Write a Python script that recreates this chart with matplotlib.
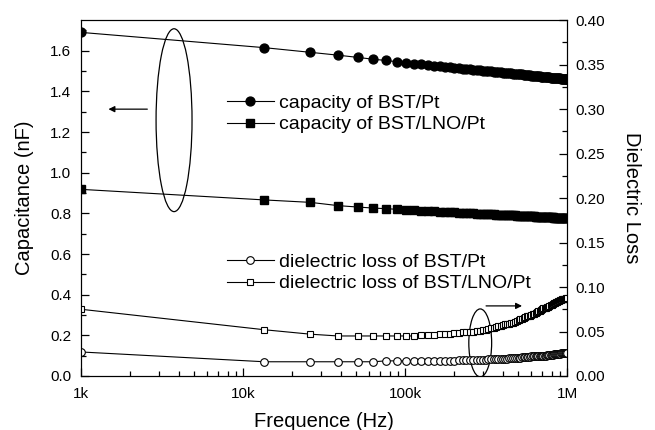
import matplotlib
matplotlib.use('Agg')
import numpy as np
import matplotlib.pyplot as plt
from matplotlib.patches import Ellipse
from matplotlib.ticker import FixedLocator, FixedFormatter, MultipleLocator, FormatStrFormatter

plt.rcParams['font.family'] = ['Liberation Sans', 'DejaVu Sans']

#%% data
# frequency sweep (kHz)
freq_khz = [1, 13.5, 26, 38.5, 51, 63.5, 76, 88.5,
            101, 113.5, 126, 138.5, 151, 163.5, 176, 188.5, 201, 213.5,
            226, 238.5, 251, 263.5, 276, 288.5, 301, 313.5, 326, 338.5,
            351, 363.5, 376, 388.5, 401, 413.5, 426, 438.5, 451, 463.5,
            476, 488.5, 501, 513.5, 526, 538.5, 551, 563.5, 576, 588.5,
            601, 613.5, 626, 638.5, 651, 663.5, 676, 688.5, 701, 713.5,
            726, 738.5, 751, 763.5, 776, 788.5, 801, 813.5, 826, 838.5,
            851, 863.5, 876, 888.5, 901, 913.5, 926, 938.5, 951, 963.5,
            976, 988.5, 1000]

# capacitance (nF)
cap_pt = [1.690, 1.615, 1.592, 1.578, 1.567, 1.558, 1.552, 1.546,
          1.541, 1.537, 1.533, 1.530, 1.527, 1.524, 1.521, 1.519, 1.516, 1.514,
          1.512, 1.510, 1.509, 1.507, 1.505, 1.504, 1.502, 1.501, 1.499, 1.498,
          1.497, 1.496, 1.494, 1.493, 1.492, 1.491, 1.490, 1.489, 1.488, 1.487,
          1.486, 1.485, 1.484, 1.483, 1.483, 1.482, 1.481, 1.480, 1.479, 1.479,
          1.478, 1.477, 1.476, 1.476, 1.475, 1.474, 1.474, 1.473, 1.472, 1.472,
          1.471, 1.471, 1.470, 1.469, 1.469, 1.468, 1.468, 1.467, 1.467, 1.466,
          1.466, 1.465, 1.465, 1.464, 1.464, 1.463, 1.463, 1.462, 1.462, 1.461,
          1.461, 1.461, 1.460]
cap_lno = [0.918, 0.866, 0.854, 0.838, 0.831, 0.826, 0.823, 0.820,
           0.818, 0.816, 0.814, 0.812, 0.810, 0.809, 0.808, 0.806, 0.805, 0.804,
           0.803, 0.802, 0.801, 0.800, 0.799, 0.799, 0.798, 0.797, 0.796, 0.796,
           0.795, 0.794, 0.794, 0.793, 0.793, 0.792, 0.792, 0.791, 0.791, 0.790,
           0.790, 0.789, 0.789, 0.788, 0.788, 0.787, 0.787, 0.786, 0.786, 0.786,
           0.785, 0.785, 0.785, 0.784, 0.784, 0.783, 0.783, 0.783, 0.782, 0.782,
           0.782, 0.782, 0.781, 0.781, 0.781, 0.780, 0.780, 0.780, 0.779, 0.779,
           0.779, 0.778, 0.778, 0.778, 0.778, 0.777, 0.777, 0.777, 0.777, 0.776,
           0.776, 0.776, 0.776]

# dielectric loss
loss_pt = [0.027, 0.016, 0.016, 0.016, 0.016, 0.016, 0.017, 0.017,
           0.017, 0.017, 0.017, 0.017, 0.017, 0.017, 0.017, 0.017, 0.017, 0.018,
           0.018, 0.018, 0.018, 0.018, 0.018, 0.018, 0.018, 0.018, 0.019, 0.019,
           0.019, 0.019, 0.019, 0.019, 0.019, 0.019, 0.019, 0.020, 0.020, 0.020,
           0.020, 0.020, 0.020, 0.020, 0.021, 0.021, 0.021, 0.021, 0.021, 0.021,
           0.022, 0.022, 0.022, 0.022, 0.022, 0.022, 0.023, 0.023, 0.023, 0.023,
           0.023, 0.023, 0.024, 0.024, 0.024, 0.024, 0.024, 0.024, 0.025, 0.025,
           0.025, 0.025, 0.025, 0.025, 0.025, 0.026, 0.026, 0.026, 0.026, 0.026,
           0.026, 0.026, 0.026]
loss_lno = [0.075, 0.052, 0.047, 0.045, 0.045, 0.045, 0.045, 0.045,
            0.045, 0.045, 0.046, 0.046, 0.046, 0.047, 0.047, 0.047, 0.048, 0.048,
            0.049, 0.049, 0.050, 0.050, 0.051, 0.051, 0.052, 0.052, 0.053, 0.054,
            0.054, 0.055, 0.056, 0.056, 0.057, 0.058, 0.058, 0.059, 0.060, 0.060,
            0.061, 0.062, 0.063, 0.064, 0.064, 0.065, 0.066, 0.067, 0.067, 0.068,
            0.069, 0.070, 0.070, 0.071, 0.072, 0.073, 0.073, 0.074, 0.075, 0.076,
            0.076, 0.077, 0.078, 0.078, 0.079, 0.080, 0.080, 0.081, 0.082, 0.082,
            0.083, 0.083, 0.084, 0.084, 0.085, 0.085, 0.086, 0.086, 0.086, 0.087,
            0.087, 0.088, 0.088]

xtick_vals = [1e3, 1e4, 1e5, 1e6]
xtick_labels = ['1k', '10k', '100k', '1M']

freq = np.array(freq_khz) * 1000.0

#%% figure
fig = plt.figure(figsize=(6.55, 4.30), dpi=100)
ax = fig.add_axes([0.124, 0.1256, 0.742, 0.8274])
ax2 = ax.twinx()

lw = 0.8
ax.plot(freq, cap_pt, '-o', color='black', lw=lw, ms=6.4, mfc='black', mec='black',
        label='capacity of BST/Pt')
ax.plot(freq, cap_lno, '-s', color='black', lw=lw, ms=5.8, mfc='black', mec='black',
        label='capacity of BST/LNO/Pt')
ax2.plot(freq, loss_pt, '-o', color='black', lw=lw, ms=5.5, mfc='white', mec='black',
         mew=0.8, label='dielectric loss of BST/Pt')
ax2.plot(freq, loss_lno, '-s', color='black', lw=lw, ms=5.0, mfc='white', mec='black',
         mew=0.8, label='dielectric loss of BST/LNO/Pt')

ax.set_xscale('log')
ax.set_xlim(1e3, 1e6)
ax.set_ylim(0, 1.75)
ax2.set_ylim(0, 0.40)

ax.xaxis.set_major_locator(FixedLocator(xtick_vals))
ax.xaxis.set_major_formatter(FixedFormatter(xtick_labels))
ax.yaxis.set_major_locator(MultipleLocator(0.2))
ax.yaxis.set_minor_locator(MultipleLocator(0.1))
ax.yaxis.set_major_formatter(FormatStrFormatter('%.1f'))
ax2.yaxis.set_major_locator(MultipleLocator(0.05))
ax2.yaxis.set_minor_locator(MultipleLocator(0.025))
ax2.yaxis.set_major_formatter(FormatStrFormatter('%.2f'))

ax.tick_params(axis='x', which='both', direction='in', top=False, labelsize=11, pad=8)
ax.tick_params(axis='y', which='both', direction='in', right=False, labelsize=11, pad=7)
ax2.tick_params(axis='y', which='both', direction='in', labelsize=11, pad=6)
for a in (ax, ax2):
    a.tick_params(which='major', length=6, width=0.9)
    a.tick_params(which='minor', length=3.5, width=0.9)

ax.set_xlabel('Frequence (Hz)', fontsize=14.5, labelpad=8)
ax.set_ylabel('Capacitance (nF)', fontsize=14.5, labelpad=12)
ax2.set_ylabel('Dielectric Loss', fontsize=14.5, rotation=270, labelpad=26)

# legends
ax.legend(loc='upper left', bbox_to_anchor=(0.300, 0.792), frameon=False, fontsize=14,
          numpoints=1, handlelength=2.4, handletextpad=0.25, labelspacing=0.2,
          borderpad=0, borderaxespad=0)
ax2.legend(loc='upper left', bbox_to_anchor=(0.300, 0.345), frameon=False, fontsize=14,
           numpoints=1, handlelength=2.4, handletextpad=0.25, labelspacing=0.2,
           borderpad=0, borderaxespad=0)

# ellipses and arrows pointing to the axes
ax2.add_patch(Ellipse((0.191, 0.719), 0.074, 0.514, transform=ax2.transAxes,
                      fill=False, ec='black', lw=0.9))
ax2.add_patch(Ellipse((0.821, 0.093), 0.047, 0.191, transform=ax2.transAxes,
                      fill=False, ec='black', lw=0.9))
ax2.annotate('', xy=(0.056, 0.75), xytext=(0.136, 0.75), xycoords='axes fraction',
             arrowprops=dict(arrowstyle='-|>', color='black', lw=0.9,
                             mutation_scale=9, shrinkA=0, shrinkB=0))
ax2.annotate('', xy=(0.907, 0.197), xytext=(0.833, 0.197), xycoords='axes fraction',
             arrowprops=dict(arrowstyle='-|>', color='black', lw=0.9,
                             mutation_scale=9, shrinkA=0, shrinkB=0))

fig.savefig('out.png', dpi=100)
